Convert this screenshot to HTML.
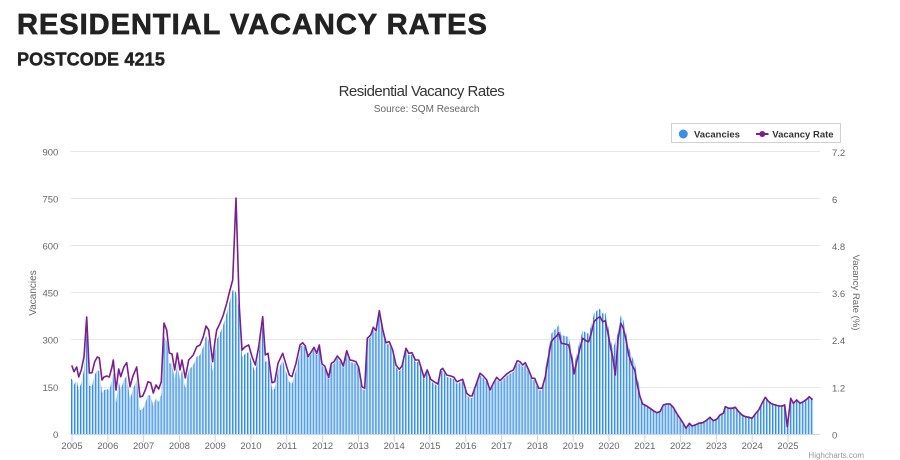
<!DOCTYPE html>
<html>
<head>
<meta charset="utf-8">
<style>
  html,body{margin:0;padding:0;background:#fff;}
  body{width:900px;height:460px;overflow:hidden;position:relative;font-family:"Liberation Sans",Arial,sans-serif;}
  svg{position:absolute;left:0;top:0;}
</style>
</head>
<body>
<svg width="900" height="460" viewBox="0 0 900 460" xmlns="http://www.w3.org/2000/svg" font-family="Liberation Sans, Arial, sans-serif">
  <defs>
    <pattern id="bp" patternUnits="userSpaceOnUse" x="71" y="0" width="2.983" height="500">
      <rect x="0" y="0" width="1.0" height="500" fill="#3b84dd"/>
      <rect x="1.0" y="0" width="1.15" height="500" fill="#93cdf5"/>
    </pattern>
    <polygon id="area" fill="url(#bp)" points="71,366 72,366 74,371.7 76.7,367 78.7,377 81.3,370 84,356.7 86.7,317 89.3,373 92,372.7 94.7,361.7 97.3,357 99.3,358 102,380 104,377 106.7,376 109.3,377 112,367 113.3,360 116,390 118.7,369 120.7,376.7 124,366.7 126.7,362.7 130,386.7 132.7,376.7 136.7,367 140,397 142.7,396 145.3,390 148,381.7 150.7,382.7 153.3,393 156,385 158.7,389 161.3,381.7 164,323 166.7,330 169.3,353 172,354 174.7,370 177.3,353 180,370 182,360 185.3,378 188.7,360 193.3,355 196.7,346.7 200,345 203.3,336.7 206,326 208.7,330 210.7,346.7 212.7,361.7 214.7,343.3 216.7,330 220,323.3 223.3,315 226.7,303.3 230,290 232.7,280 236,282 239.3,300 242,350 245.3,346.7 248.7,345 252,356.7 255.3,365 258.7,346.7 262.7,316.7 265.3,355 268,353.3 272,382.7 274.7,381.7 278,363.3 282.7,353.3 286.7,366.7 289.3,375 292,376.7 296,363.3 300,345 302.7,342.7 305.3,346 308,356.7 310.7,352.7 314,347.3 316.7,353.3 319.3,345 322,364 324.7,366 328.7,377.3 331.3,363.3 334,361.7 337.3,356 340.7,360 343.3,366 346.7,350.7 350,360 353.3,360.7 356,361.7 358.7,367.3 362,386.7 364.7,388.3 367.3,338.3 370.7,335 373.3,327.3 376,330.7 379.3,310.7 382.7,329.3 386,342.7 389.3,341.7 392.7,350 396,365 399.3,369.3 402,366 406,348.3 408.7,353.3 412,352.7 415.3,360 418.7,360 421.3,368.3 424,377.3 427.3,370 430.7,379.3 434,381.7 438,384 440.7,370 442.7,368.3 446.7,375 450.7,376 454,377.3 456.7,381.7 459.3,380.7 462.7,379.3 466.7,393.3 470,396 472,396 475.3,386.7 480,373.3 483.3,376 486.7,380 490,390 493.3,383.3 496.7,377.3 500,380.7 503.3,377.3 506.7,374 510,371.7 513.3,370 517.3,360.7 520,361.7 522.7,365 525.3,362.7 528.7,370 532,378.3 534.7,378.3 538.7,388.3 542,388.3 545.3,376.7 548,360 551.3,341.7 554,338.3 556.7,336 558.7,332.7 561.3,343.3 565.3,344 568.7,345 572,360 574,374 576.7,361.7 580,348.3 582.7,338.3 586,340.7 588.7,341.7 591.3,333.3 594,321.7 597.3,318.3 600,316.7 602.7,321.7 605.3,320.7 608,333.3 610.7,348.3 612.7,356.7 615.3,350 618,340 620.7,323.3 623.3,328.3 626,340 628.7,355 632,365 634.7,370 637.3,385 640,396.7 642.7,404 646.7,406 650,408.3 653.3,410.7 656.7,412.7 660,411.7 663.3,405 666.7,404 670,404 673.3,407.3 676.7,413.3 680,418.3 683.3,423.3 686,428.3 689.3,423.3 692,426 695.3,425 698.7,423.3 702.7,422.7 706,420.7 710,417.3 713.3,420.7 716.7,419.3 720,415 723.3,413.3 725.3,406.7 728.7,408.3 732,408.3 735.3,407.3 738.7,411.7 742,415 745.3,416.7 748.7,417.3 752,418.3 755.3,414 758.7,410 762,403.3 765.3,397.3 768.7,401.7 772,404 775.3,405 778.7,406 782,406 784.7,405 787.3,426.7 790.7,398.3 793.3,403.3 796.7,400 800,403.3 803.3,401.7 806.7,399.3 809.3,396.7 812,399.3 813.5,399.3 813.5,470 71,470"/>
    <clipPath id="r1"><rect x="60" y="0" width="106" height="434"/></clipPath>
    <clipPath id="r2"><rect x="166" y="0" width="74" height="434"/></clipPath>
    <clipPath id="r3"><rect x="240" y="0" width="60" height="434"/></clipPath>
    <clipPath id="r4"><rect x="300" y="0" width="245" height="434"/></clipPath>
    <clipPath id="r5"><rect x="545" y="0" width="95" height="434"/></clipPath>
    <clipPath id="r6"><rect x="640" y="0" width="180" height="434"/></clipPath>
  </defs>

  <!-- Page headings -->
  <text x="17" y="34" font-size="29" font-weight="bold" fill="#222" stroke="#222" stroke-width="0.7" letter-spacing="1">RESIDENTIAL VACANCY RATES</text>
  <text x="17" y="65.7" font-size="18" font-weight="bold" fill="#222" stroke="#222" stroke-width="0.45" letter-spacing="0.15">POSTCODE 4215</text>

  <!-- Chart title -->
  <text x="421.4" y="96" font-size="15" fill="#333" text-anchor="middle" letter-spacing="-0.5">Residential Vacancy Rates</text>
  <text x="426.7" y="112" font-size="10" fill="#666" text-anchor="middle">Source: SQM Research</text>

  <!-- Legend -->
  <rect x="671.5" y="123.5" width="169" height="19" fill="#fff" stroke="#d0d0d0" stroke-width="1"/>
  <circle cx="683.3" cy="134" r="4.5" fill="#3d8ee6"/>
  <text x="694" y="137.5" font-size="9.5" font-weight="bold" fill="#333">Vacancies</text>
  <line x1="756" y1="134" x2="768.5" y2="134" stroke="#7b1e8e" stroke-width="2"/>
  <circle cx="762.3" cy="134" r="3" fill="#7b1e8e"/>
  <text x="772.3" y="137.5" font-size="9.5" font-weight="bold" fill="#333">Vacancy Rate</text>

  <!-- Gridlines -->
  <g stroke="#e6e6e6" stroke-width="1">
    <line x1="70.5" y1="151.5" x2="820" y2="151.5"/>
    <line x1="70.5" y1="198.5" x2="820" y2="198.5"/>
    <line x1="70.5" y1="245.5" x2="820" y2="245.5"/>
    <line x1="70.5" y1="292.5" x2="820" y2="292.5"/>
    <line x1="70.5" y1="339.5" x2="820" y2="339.5"/>
    <line x1="70.5" y1="387.5" x2="820" y2="387.5"/>
  </g>

  <!-- Bars (striped area with region offsets) -->
  <g clip-path="url(#r1)"><use href="#area" transform="translate(0,13)"/></g>
  <g clip-path="url(#r2)"><use href="#area" transform="translate(0,10)"/></g>
  <g clip-path="url(#r3)"><use href="#area" transform="translate(0,7)"/></g>
  <g clip-path="url(#r4)"><use href="#area" transform="translate(0,2)"/></g>
  <g clip-path="url(#r5)"><use href="#area" transform="translate(0,-8)"/></g>
  <g clip-path="url(#r6)"><use href="#area" transform="translate(0,-1)"/></g>

  <!-- X axis -->
  <line x1="70.5" y1="434.5" x2="820" y2="434.5" stroke="#ccd6eb" stroke-width="1"/>
  <g stroke="#ccd6eb" stroke-width="1">
    <line x1="72" y1="434" x2="72" y2="442"/>
    <line x1="107.8" y1="434" x2="107.8" y2="442"/>
    <line x1="143.6" y1="434" x2="143.6" y2="442"/>
    <line x1="179.4" y1="434" x2="179.4" y2="442"/>
    <line x1="215.2" y1="434" x2="215.2" y2="442"/>
    <line x1="251" y1="434" x2="251" y2="442"/>
    <line x1="286.8" y1="434" x2="286.8" y2="442"/>
    <line x1="322.6" y1="434" x2="322.6" y2="442"/>
    <line x1="358.4" y1="434" x2="358.4" y2="442"/>
    <line x1="394.2" y1="434" x2="394.2" y2="442"/>
    <line x1="430" y1="434" x2="430" y2="442"/>
    <line x1="465.8" y1="434" x2="465.8" y2="442"/>
    <line x1="501.6" y1="434" x2="501.6" y2="442"/>
    <line x1="537.4" y1="434" x2="537.4" y2="442"/>
    <line x1="573.2" y1="434" x2="573.2" y2="442"/>
    <line x1="609" y1="434" x2="609" y2="442"/>
    <line x1="644.8" y1="434" x2="644.8" y2="442"/>
    <line x1="680.6" y1="434" x2="680.6" y2="442"/>
    <line x1="716.4" y1="434" x2="716.4" y2="442"/>
    <line x1="752.2" y1="434" x2="752.2" y2="442"/>
    <line x1="788" y1="434" x2="788" y2="442"/>
  </g>

  <!-- Vacancy rate line -->
  <polyline fill="none" stroke="#7b1e8e" stroke-width="1.6" stroke-linejoin="round" stroke-linecap="round" points="72,366 74,371.7 76.7,367 78.7,377 81.3,370 84,356.7 86.7,317 89.3,373 92,372.7 94.7,361.7 97.3,357 99.3,358 102,380 104,377 106.7,376 109.3,377 112,367 113.3,360 116,390 118.7,369 120.7,376.7 124,366.7 126.7,362.7 130,386.7 132.7,376.7 136.7,367 140,397 142.7,396 145.3,390 148,381.7 150.7,382.7 153.3,393 156,385 158.7,389 161.3,381.7 164,323 166.7,330 169.3,353 172,354 174.7,370 177.3,353 180,370 182,360 185.3,378 188.7,360 193.3,355 196.7,346.7 200,345 203.3,336.7 206,326 208.7,330 210.7,346.7 212.7,361.7 214.7,343.3 216.7,330 220,323.3 223.3,315 226.7,303.3 230,290 232.7,280 236,198 239.3,306.7 242,350 245.3,346.7 248.7,345 252,356.7 255.3,365 258.7,346.7 262.7,316.7 265.3,355 268,353.3 272,382.7 274.7,381.7 278,363.3 282.7,353.3 286.7,366.7 289.3,375 292,376.7 296,363.3 300,345 302.7,342.7 305.3,346 308,356.7 310.7,352.7 314,347.3 316.7,353.3 319.3,345 322,364 324.7,366 328.7,377.3 331.3,363.3 334,361.7 337.3,356 340.7,360 343.3,366 346.7,350.7 350,360 353.3,360.7 356,361.7 358.7,367.3 362,386.7 364.7,388.3 367.3,338.3 370.7,335 373.3,327.3 376,330.7 379.3,310.7 382.7,329.3 386,342.7 389.3,341.7 392.7,350 396,365 399.3,369.3 402,366 406,348.3 408.7,353.3 412,352.7 415.3,360 418.7,360 421.3,368.3 424,377.3 427.3,370 430.7,379.3 434,381.7 438,384 440.7,370 442.7,368.3 446.7,375 450.7,376 454,377.3 456.7,381.7 459.3,380.7 462.7,379.3 466.7,393.3 470,396 472,396 475.3,386.7 480,373.3 483.3,376 486.7,380 490,390 493.3,383.3 496.7,377.3 500,380.7 503.3,377.3 506.7,374 510,371.7 513.3,370 517.3,360.7 520,361.7 522.7,365 525.3,362.7 528.7,370 532,378.3 534.7,378.3 538.7,388.3 542,388.3 545.3,376.7 548,360 551.3,341.7 554,338.3 556.7,336 558.7,332.7 561.3,343.3 565.3,344 568.7,345 572,360 574,374 576.7,361.7 580,348.3 582.7,338.3 586,340.7 588.7,341.7 591.3,333.3 594,321.7 597.3,318.3 600,316.7 602.7,321.7 605.3,320.7 608,333.3 610.7,348.3 612.7,356.7 615.3,375 618,340 620.7,323.3 623.3,328.3 626,340 628.7,355 632,365 634.7,370 637.3,385 640,396.7 642.7,404 646.7,406 650,408.3 653.3,410.7 656.7,412.7 660,411.7 663.3,405 666.7,404 670,404 673.3,407.3 676.7,413.3 680,418.3 683.3,423.3 686,428.3 689.3,423.3 692,426 695.3,425 698.7,423.3 702.7,422.7 706,420.7 710,417.3 713.3,420.7 716.7,419.3 720,415 723.3,413.3 725.3,406.7 728.7,408.3 732,408.3 735.3,407.3 738.7,411.7 742,415 745.3,416.7 748.7,417.3 752,418.3 755.3,414 758.7,410 762,403.3 765.3,397.3 768.7,401.7 772,404 775.3,405 778.7,406 782,406 784.7,405 787.3,426.7 790.7,398.3 793.3,403.3 796.7,400 800,403.3 803.3,401.7 806.7,399.3 809.3,396.7 812,399.3"/>

  <!-- Left Y axis labels -->
  <g font-size="9.5" fill="#666" text-anchor="end">
    <text x="58.3" y="155.5">900</text>
    <text x="58.3" y="202.5">750</text>
    <text x="58.3" y="249.5">600</text>
    <text x="58.3" y="296.5">450</text>
    <text x="58.3" y="343.5">300</text>
    <text x="58.3" y="391">150</text>
    <text x="58.3" y="438">0</text>
  </g>
  <text transform="translate(36,293) rotate(-90)" font-size="10" fill="#666" text-anchor="middle">Vacancies</text>

  <!-- Right Y axis labels -->
  <g font-size="9.5" fill="#666" text-anchor="start">
    <text x="832" y="156">7.2</text>
    <text x="832" y="203">6</text>
    <text x="832" y="250">4.8</text>
    <text x="832" y="297">3.6</text>
    <text x="832" y="344">2.4</text>
    <text x="832" y="391.5">1.2</text>
    <text x="832" y="438.5">0</text>
  </g>
  <text transform="translate(853,292.5) rotate(90)" font-size="9.5" fill="#666" text-anchor="middle">Vacancy Rate (%)</text>

  <!-- X axis labels -->
  <g font-size="9.5" fill="#666" text-anchor="middle">
    <text x="72" y="449">2005</text>
    <text x="107.8" y="449">2006</text>
    <text x="143.6" y="449">2007</text>
    <text x="179.4" y="449">2008</text>
    <text x="215.2" y="449">2009</text>
    <text x="251" y="449">2010</text>
    <text x="286.8" y="449">2011</text>
    <text x="322.6" y="449">2012</text>
    <text x="358.4" y="449">2013</text>
    <text x="394.2" y="449">2014</text>
    <text x="430" y="449">2015</text>
    <text x="465.8" y="449">2016</text>
    <text x="501.6" y="449">2017</text>
    <text x="537.4" y="449">2018</text>
    <text x="573.2" y="449">2019</text>
    <text x="609" y="449">2020</text>
    <text x="644.8" y="449">2021</text>
    <text x="680.6" y="449">2022</text>
    <text x="716.4" y="449">2023</text>
    <text x="752.2" y="449">2024</text>
    <text x="788" y="449">2025</text>
  </g>

  <!-- Credits -->
  <text x="864" y="458" font-size="8" fill="#999" text-anchor="end">Highcharts.com</text>
</svg>
</body>
</html>
